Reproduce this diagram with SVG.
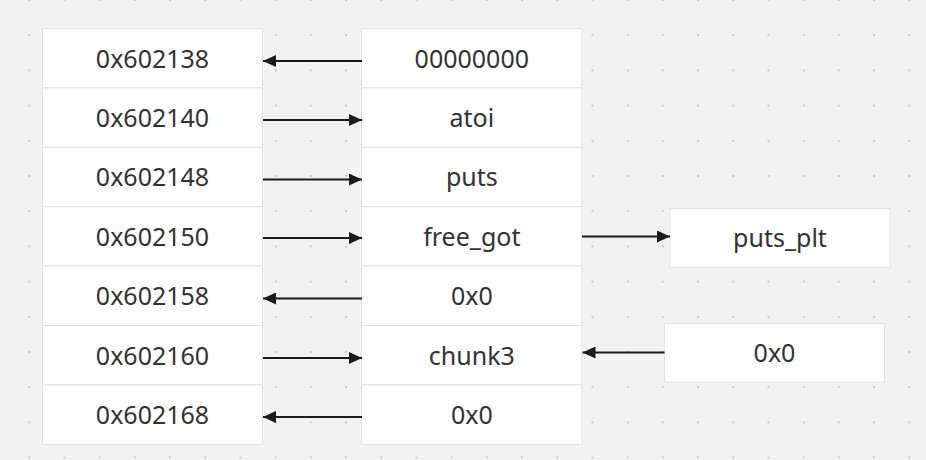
<svg xmlns="http://www.w3.org/2000/svg" width="926" height="460" viewBox="0 0 926 460">
<defs>
<pattern id="dots" x="28.3" y="-1" width="35.2" height="35.2" patternUnits="userSpaceOnUse">
<rect x="0" y="0" width="2" height="2" fill="#c9c9cf"/>
</pattern>
<marker id="ah" markerWidth="13" markerHeight="12" refX="13" refY="6" orient="auto" markerUnits="userSpaceOnUse">
<path d="M0,0 L13,6 L0,12 Z" fill="#1a1a1a"/>
</marker>
</defs>
<style>
.box{fill:#ffffff;stroke:#e2e2e4;stroke-width:1}
.t{font-family:"Noto Sans","DejaVu Sans",sans-serif;font-size:25px;fill:#333333;text-anchor:middle}
.c{stroke:#1a1a1a;stroke-width:2;fill:none;marker-end:url(#ah)}
</style>
<rect width="926" height="460" fill="#f2f2f4"/>
<rect width="926" height="460" fill="url(#dots)"/>
<g id="left">
<g id="l1"><rect class="box" x="42.5" y="28.5" width="220" height="59.4"/><text class="t" x="152.5" y="67.5">0x602138</text></g>
<g id="l2"><rect class="box" x="42.5" y="87.9" width="220" height="59.4"/><text class="t" x="152.5" y="126.9">0x602140</text></g>
<g id="l3"><rect class="box" x="42.5" y="147.3" width="220" height="59.4"/><text class="t" x="152.5" y="186.3">0x602148</text></g>
<g id="l4"><rect class="box" x="42.5" y="206.7" width="220" height="59.4"/><text class="t" x="152.5" y="245.7">0x602150</text></g>
<g id="l5"><rect class="box" x="42.5" y="266.1" width="220" height="59.4"/><text class="t" x="152.5" y="305.1">0x602158</text></g>
<g id="l6"><rect class="box" x="42.5" y="325.5" width="220" height="59.4"/><text class="t" x="152.5" y="364.5">0x602160</text></g>
<g id="l7"><rect class="box" x="42.5" y="384.9" width="220" height="59.4"/><text class="t" x="152.5" y="423.9">0x602168</text></g>
</g>
<g id="mid">
<g id="m1"><rect class="box" x="361.5" y="28.5" width="220.5" height="59.4"/><text class="t" x="471.8" y="67.5">00000000</text></g>
<g id="m2"><rect class="box" x="361.5" y="87.9" width="220.5" height="59.4"/><text class="t" x="471.8" y="126.9">atoi</text></g>
<g id="m3"><rect class="box" x="361.5" y="147.3" width="220.5" height="59.4"/><text class="t" x="471.8" y="186.3">puts</text></g>
<g id="m4"><rect class="box" x="361.5" y="206.7" width="220.5" height="59.4"/><text class="t" x="471.8" y="245.7">free_got</text></g>
<g id="m5"><rect class="box" x="361.5" y="266.1" width="220.5" height="59.4"/><text class="t" x="471.8" y="305.1">0x0</text></g>
<g id="m6"><rect class="box" x="361.5" y="325.5" width="220.5" height="59.4"/><text class="t" x="471.8" y="364.5">chunk3</text></g>
<g id="m7"><rect class="box" x="361.5" y="384.9" width="220.5" height="59.4"/><text class="t" x="471.8" y="423.9">0x0</text></g>
</g>
<g id="puts_plt"><rect class="box" x="670" y="208.5" width="220" height="58.8"/><text class="t" x="780" y="247">puts_plt</text></g>
<g id="zero"><rect class="box" x="664.5" y="323.5" width="220" height="58.5"/><text class="t" x="774.5" y="362">0x0</text></g>
<g id="connectors">
<line class="c" x1="362" y1="61" x2="263" y2="61"/>
<line class="c" x1="263" y1="120" x2="362" y2="120"/>
<line class="c" x1="263" y1="179.5" x2="362" y2="179.5"/>
<line class="c" x1="263" y1="238" x2="362" y2="238"/>
<line class="c" x1="362" y1="298.5" x2="263" y2="298.5"/>
<line class="c" x1="263" y1="358" x2="362" y2="358"/>
<line class="c" x1="362" y1="417" x2="263" y2="417"/>
<line class="c" x1="582" y1="236.5" x2="670" y2="236.5"/>
<line class="c" x1="664.5" y1="352.5" x2="582.5" y2="352.5"/>
</g>
</svg>
